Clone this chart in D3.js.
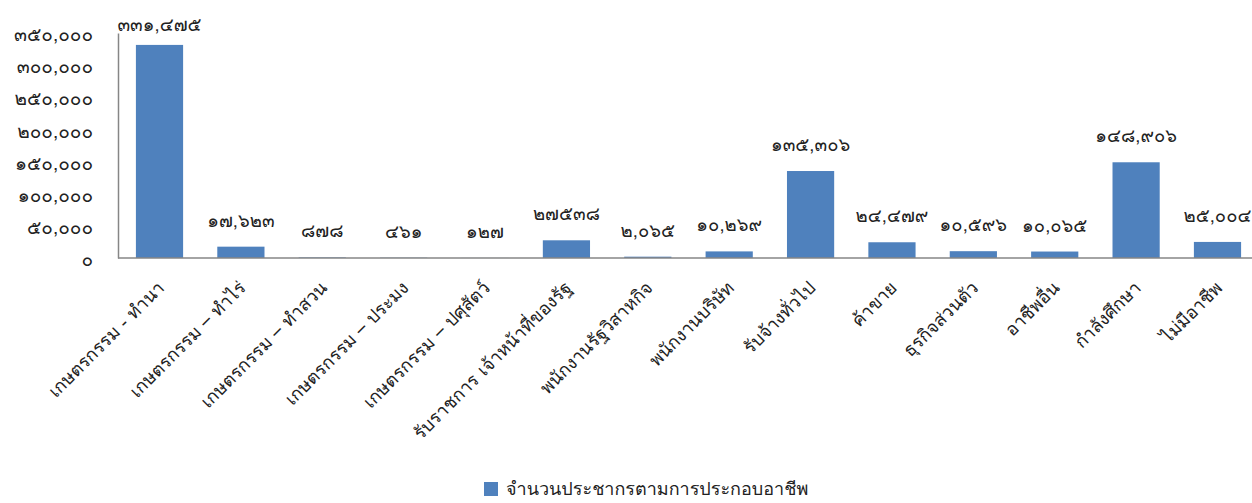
<!DOCTYPE html>
<html>
<head>
<meta charset="utf-8">
<script src="https://cdn.jsdelivr.net/npm/d3@7"></script>
<style>
  body { margin: 0; background: #fff; }
  svg text { font-family: Tahoma, Loma, Garuda, "Noto Sans Thai Looped", "Noto Sans Thai", "Noto Sans", sans-serif; fill: #222; }
  .axis path, .axis line { stroke: #868686; }
</style>
</head>
<body>
<svg id="chart"></svg>
<script>
// occupation categories (x axis)
var categories = [
  "เกษตรกรรม - ทำนา",
  "เกษตรกรรม – ทำไร่",
  "เกษตรกรรม – ทำสวน",
  "เกษตรกรรม – ประมง",
  "เกษตรกรรม – ปศุสัตว์",
  "รับราชการ เจ้าหน้าที่ของรัฐ",
  "พนักงานรัฐวิสาหกิจ",
  "พนักงานบริษัท",
  "รับจ้างทั่วไป",
  "ค้าขาย",
  "ธุรกิจส่วนตัว",
  "อาชีพอื่น",
  "กำลังศึกษา",
  "ไม่มีอาชีพ"
];
// population per occupation
var values = [331475, 17623, 878, 461, 127, 27538, 2065, 10269, 135306, 24479, 10596, 10065, 148906, 25004];
// data labels as printed on the chart (thai digits)
var valueLabels = ["๓๓๑,๔๗๕", "๑๗,๖๒๓", "๘๗๘", "๔๖๑", "๑๒๗", "๒๗๕๓๘", "๒,๐๖๕", "๑๐,๒๖๙",
  "๑๓๕,๓๐๖", "๒๔,๔๗๙", "๑๐,๕๙๖", "๑๐,๐๖๕", "๑๔๘,๙๐๖", "๒๕,๐๐๔"];
var yTicks = [0, 50000, 100000, 150000, 200000, 250000, 300000, 350000];
var seriesName = "จำนวนประชากรตามการประกอบอาชีพ";

var width = 1252, height = 503;
var margin = {top: 33, left: 118};

var thaiDigits = "๐๑๒๓๔๕๖๗๘๙";
function toThai(s){
  return String(s).replace(/[0-9]/g, function(c){ return thaiDigits[+c]; });
}

var svg = d3.select("#chart").attr("width", width).attr("height", height);

var x = d3.scaleBand()
    .domain(categories)
    .range([margin.left, 1259])
    .paddingInner(0.42)
    .paddingOuter(0.22);

var y = d3.scaleLinear()
    .domain([0, 350000])
    .range([258, margin.top]);

// bars
svg.append("g").selectAll("rect")
  .data(values)
  .enter().append("rect")
  .attr("x", function(d, i){ return x(categories[i]); })
  .attr("width", x.bandwidth())
  .attr("y", function(d){ return y(d); })
  .attr("height", function(d){ return y(0) - y(d); })
  .attr("fill", "#4f81bd");

// y axis
var yAxis = svg.append("g")
  .attr("class", "axis")
  .attr("transform", "translate(" + margin.left + ",0)")
  .call(d3.axisLeft(y).tickValues(yTicks).tickSize(0).tickPadding(25)
        .tickFormat(function(d){ return toThai(d3.format(",")(d)); }));
yAxis.select(".domain").attr("stroke-width", 1.5);
yAxis.selectAll("text").style("font-size", "19px").attr("dy", "0.4em");

// x axis
var xAxis = svg.append("g")
  .attr("class", "axis")
  .attr("transform", "translate(0," + y(0) + ")")
  .call(d3.axisBottom(x).tickSize(0).tickPadding(0));
xAxis.select(".domain").attr("d", "M" + margin.left + ",0H" + width).attr("stroke-width", 1.5);
xAxis.selectAll("text")
  .style("font-size", "18px")
  .attr("text-anchor", "end")
  .attr("dy", null)
  .attr("transform", "translate(6,31) rotate(-45)");

// data labels
svg.append("g").selectAll("text")
  .data(values)
  .enter().append("text")
  .attr("x", function(d, i){ return x(categories[i]) + x.bandwidth() / 2; })
  .attr("y", function(d){ return Math.max(y(d) - 20, 31); })
  .attr("text-anchor", "middle")
  .style("font-size", "18.5px")
  .text(function(d, i){ return valueLabels[i]; });

// legend
var legend = svg.append("g").attr("transform", "translate(484,482)");
legend.append("rect").attr("width", 14).attr("height", 14).attr("fill", "#4f81bd");
legend.append("text").attr("x", 22).attr("y", 13).style("font-size", "18px").text(seriesName);
</script>
</body>
</html>
